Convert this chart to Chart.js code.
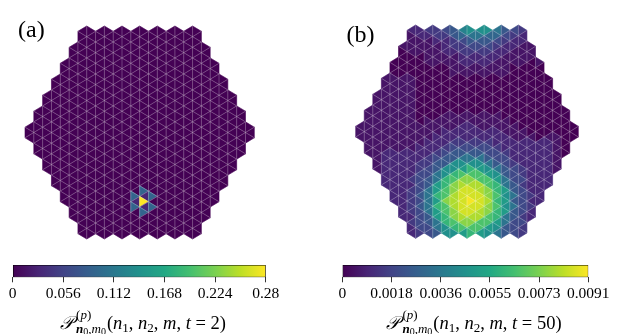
<!DOCTYPE html>
<html>
<head>
<meta charset="utf-8">
<title>Triangular lattice walk</title>
<script src="https://cdn.jsdelivr.net/npm/chart.js@4.4.1/dist/chart.umd.min.js"></script>
<style>
  html, body { margin: 0; padding: 0; background: #fff; }
  #wrap { position: relative; width: 618px; height: 334px; overflow: hidden; }
  #wrap canvas { position: absolute; left: 0; top: 0; }
</style>
</head>
<body>
<div id="wrap">
  <canvas id="hexA" width="618" height="334"></canvas>
  <canvas id="hexB" width="618" height="334"></canvas>
  <canvas id="barA" width="618" height="334"></canvas>
  <canvas id="barB" width="618" height="334"></canvas>
</div>
<script>
// ---- data -------------------------------------------------------------
// panel (b), t = 50: one string per lattice column (left -> right),
// one character per triangle from top to bottom, value = level * levelStep
const levelCodes = '0123456789abcdefghi';
const levelStep = 0.0005;
const colsB = [
  '111',
  '111111111',
  '111111111111111',
  '1111111111' + '11112222222',
  '000' + '1111111111' + '11112222222222',
  '100000' + '1111111111' + '11112222222222222',
  '2111100001' + '11111' + '1111' + '11112222232333332322',
  '2211100000' + '00000' + '0001' + '11122233444454544443',
  '3211111000' + '00000' + '0011' + '11222334455777775544',
  '3321111000' + '00000' + '0011' + '1222345577aacacaa775',
  '4322211000' + '00000' + '0111' + '222345599ccddfddcc99',
  '5533211110' + '00000' + '0111' + '22345599cdffgggffdc9',
  '8643322110' + '00000' + '0112' + '2234579adfghhhhhgfda',
  '9754322110' + '00000' + '0112' + '2234579cdfghhihhgfdc',
  '9754322110' + '00000' + '0111' + '2234579addgghhhggdda',
  '9654322110' + '00000' + '0111' + '22344579addffgffdda9',
  '7643221110' + '00000' + '0111' + '222344579accdcdcca97',
  '5432211110' + '00000' + '0011' + '12223445577a9a9a7755',
  '4322111000' + '00000' + '0001' + '11222234445575755444',
  '3221111000' + '00000' + '0000' + '11222223343444443433',
  '111000' + '0000000000' + '01222222222232322',
  '1000000000000' + '00222222222222',
  '0000000000' + '01222222222',
  '0000000' + '01111111',
  '000000000',
  '000'
];

// panel (a), t = 2: the only cells that are not ~0 (column, row centre, value)
const cellsA_col = [13, 12, 12, 13, 13, 14, 14, 12, 13, 13];
const cellsA_row = [6.5, 6, 7, 5.5, 7.5, 6, 7, 6.5, 6, 7];
const cellsA_val = [0.28, 0.09, 0.09, 0.09, 0.09, 0.09, 0.09, 0.03, 0.03, 0.03];

const maxA = 0.28;
const maxB = 0.0091;
const ticksA = [0, 0.056, 0.112, 0.168, 0.224, 0.28];
const tickLabelsA = ['0', '0.056', '0.112', '0.168', '0.224', '0.28'];
const ticksB = [0, 0.00182, 0.00364, 0.00546, 0.00728, 0.0091];
const tickLabelsB = ['0', '0.0018', '0.0036', '0.0055', '0.0073', '0.0091'];

// ---- helpers -----------------------------------------------------------
const VIR = [[68,1,84],[72,36,117],[65,68,135],[53,95,141],[42,120,142],[33,145,140],
             [34,168,132],[68,191,112],[122,209,81],[189,223,38],[253,231,37]];
function viridis(t) {
  t = Math.min(1, Math.max(0, t));
  const s = t * 10, i = Math.min(9, Math.floor(s)), f = s - i;
  const a = VIR[i], b = VIR[i + 1];
  return 'rgb(' + [0, 1, 2].map(k => Math.round(a[k] + (b[k] - a[k]) * f)).join(',') + ')';
}

// every lattice triangle; right-pointing when (column even) == (row integer)
function buildCells(valueOf) {
  const out = [];
  colsB.forEach((str, col) => {
    const ext = (str.length - 1) / 4;
    for (let k = 0; k < str.length; k++) {
      const row = -ext + k / 2;
      const isR = (col % 2 === 0) === Number.isInteger(row);
      out.push({ x: col - 13 + (isR ? 1 / 3 : 2 / 3), y: row, col, isR, v: valueOf(col, row, str[k]) });
    }
  });
  return out;
}

const dataA = buildCells((col, row) => {
  for (let i = 0; i < cellsA_col.length; i++)
    if (cellsA_col[i] === col && cellsA_row[i] === row) return cellsA_val[i];
  return 0;
});
const dataB = buildCells((col, row, ch) => levelCodes.indexOf(ch) * levelStep);

function triVerts(p) {
  const x0 = p.col - 13, x1 = x0 + 1;
  return p.isR ? [[x0, p.y - 0.5], [x0, p.y + 0.5], [x1, p.y]]
               : [[x1, p.y - 0.5], [x1, p.y + 0.5], [x0, p.y]];
}

const triPlugin = {
  id: 'tri',
  beforeDatasetsDraw(chart, args, opts) {
    const { ctx } = chart;
    const sx = chart.scales.x, sy = chart.scales.y;
    const pts = chart.data.datasets[0].data;
    const px = v => sx.getPixelForValue(v), py = v => sy.getPixelForValue(v);
    ctx.save();
    const edges = new Map();
    pts.forEach(p => {
      const vs = triVerts(p);
      ctx.beginPath();
      vs.forEach(([a, b], i) => i ? ctx.lineTo(px(a), py(b)) : ctx.moveTo(px(a), py(b)));
      ctx.closePath();
      ctx.fillStyle = viridis(p.v / opts.max);
      ctx.fill();
      ctx.strokeStyle = ctx.fillStyle;
      ctx.lineWidth = 0.6;
      ctx.stroke();
      for (let i = 0; i < 3; i++) {
        const a = vs[i], b = vs[(i + 1) % 3];
        const key = [a, b].map(q => q[0] + ':' + q[1] * 2).sort().join('|');
        edges.set(key, edges.has(key) ? [a, b, 2] : [a, b, 1]);
      }
    });
    // inner triangle edges, drawn once each
    ctx.beginPath();
    edges.forEach(([a, b, n]) => {
      if (n < 2) return;
      ctx.moveTo(px(a[0]), py(a[1]));
      ctx.lineTo(px(b[0]), py(b[1]));
    });
    ctx.strokeStyle = 'rgba(255,255,255,0.32)';
    ctx.lineWidth = 0.8;
    ctx.stroke();
    ctx.restore();
  }
};

const SERIF = "'Liberation Serif', 'DejaVu Serif', serif";

// small rich-text writer for the math labels
function drawMath(ctx, parts, cx, base) {
  const widthOf = p => {
    if (p.stack) return Math.max(...p.stack.map(row => row.reduce((w, q) => w + widthOf(q), 0)));
    if (p.w) return p.w;
    ctx.font = p.f; return ctx.measureText(p.t).width;
  };
  const total = parts.reduce((w, p) => w + widthOf(p), 0);
  let x = cx - total / 2;
  const put = (p, x0) => {
    if (p.stack) {
      p.stack.forEach(row => { let xx = x0; row.forEach(q => { put(q, xx); xx += widthOf(q); }); });
      return;
    }
    if (p.w) return;
    ctx.font = p.f; ctx.fillText(p.t, x0, base + (p.dy || 0));
  };
  ctx.save();
  ctx.fillStyle = '#000'; ctx.textAlign = 'left'; ctx.textBaseline = 'alphabetic';
  parts.forEach(p => { put(p, x); x += widthOf(p); });
  ctx.restore();
}

function titleParts(tVal) {
  const R = '18.5px ' + SERIF, I = 'italic 18.5px ' + SERIF;
  const sR = '13px ' + SERIF, sI = 'italic 13px ' + SERIF, sB = 'italic bold 13px ' + SERIF;
  const ssR = '10px ' + SERIF;
  return [
    { t: '\u{1D4AB}', f: I }, { w: 3 },
    { stack: [
      [{ t: '(', f: sR, dy: -10 }, { t: 'p', f: sI, dy: -10 }, { t: ')', f: sR, dy: -10 }],
      [{ t: 'n', f: sB, dy: 4 }, { t: '0', f: ssR, dy: 6 }, { t: ',', f: sR, dy: 4 },
       { t: 'm', f: sI, dy: 4 }, { t: '0', f: ssR, dy: 6 }]
    ] },
    { w: 1 },
    { t: '(', f: R }, { t: 'n', f: I }, { t: '1', f: sR, dy: 3 }, { t: ', ', f: R },
    { t: 'n', f: I }, { t: '2', f: sR, dy: 3 }, { t: ', ', f: R },
    { t: 'm', f: I }, { t: ', ', f: R }, { t: 't', f: I }, { t: ' = ' + tVal + ')', f: R }
  ];
}

function makeHex(id, data, max, pad, label, labelPos) {
  new Chart(document.getElementById(id), {
    type: 'scatter',
    data: { datasets: [{ data, pointRadius: 0, pointHoverRadius: 0 }] },
    options: {
      responsive: false, animation: false, events: [],
      layout: { padding: pad },
      scales: {
        x: { type: 'linear', min: -13, max: 13, display: false },
        y: { type: 'linear', min: -10, max: 10, reverse: true, display: false }
      },
      plugins: { legend: { display: false }, tooltip: { enabled: false }, tri: { max } }
    },
    plugins: [triPlugin, {
      id: 'panelLabel',
      afterDraw(chart) {
        const c = chart.ctx;
        c.save(); c.fillStyle = '#000'; c.font = '24px ' + SERIF; c.textBaseline = 'alphabetic';
        c.fillText(label, labelPos[0], labelPos[1]);
        c.restore();
      }
    }]
  });
}

function makeBar(id, max, ticks, labels, pad, tVal, titleX) {
  new Chart(document.getElementById(id), {
    type: 'bar',
    data: {
      labels: [''],
      datasets: [{
        data: [[0, max]],
        backgroundColor(ctx) {
          const a = ctx.chart.chartArea;
          if (!a) return viridis(0);
          const g = ctx.chart.ctx.createLinearGradient(a.left, 0, a.right, 0);
          for (let i = 0; i <= 50; i++) g.addColorStop(i / 50, viridis(i / 50));
          return g;
        },
        borderColor: '#000', borderWidth: 0.8, borderSkipped: false,
        barPercentage: 1, categoryPercentage: 1
      }]
    },
    options: {
      indexAxis: 'y', responsive: false, animation: false, events: [],
      layout: { padding: pad },
      scales: {
        x: {
          type: 'linear', min: 0, max,
          afterBuildTicks: s => { s.ticks = ticks.map(v => ({ value: v })); },
          afterFit: s => { s.height = 40; s.paddingLeft = 0; s.paddingRight = 0; },
          ticks: { callback: (v, i) => labels[i], color: '#000', padding: 2,
                   maxRotation: 0, autoSkip: false, font: { family: SERIF, size: 15.5 } },
          grid: { drawOnChartArea: false, drawTicks: true, tickLength: 5, color: '#000', lineWidth: 0.8 },
          border: { display: false }
        },
        y: { display: false }
      },
      plugins: { legend: { display: false }, tooltip: { enabled: false } }
    },
    plugins: [{
      id: 'cbTitle',
      afterDraw(chart) { drawMath(chart.ctx, titleParts(tVal), titleX, 328.5); }
    }]
  });
}

makeHex('hexA', dataA, maxA, { left: 25, top: 26, right: 618 - 254.3, bottom: 334 - 239 }, '(a)', [18, 36.5]);
makeHex('hexB', dataB, maxB, { left: 355.7, top: 25, right: 618 - 578.3, bottom: 334 - 238.3 }, '(b)', [346.5, 41.5]);
makeBar('barA', maxA, ticksA, tickLabelsA, { left: 12.7, right: 618 - 265.7, top: 265, bottom: 334 - 277.3 - 40 }, '2', 143);
makeBar('barB', maxB, ticksB, tickLabelsB, { left: 342.3, right: 618 - 588.3, top: 265, bottom: 334 - 277.3 - 40 }, '50', 474);
</script>
</body>
</html>
